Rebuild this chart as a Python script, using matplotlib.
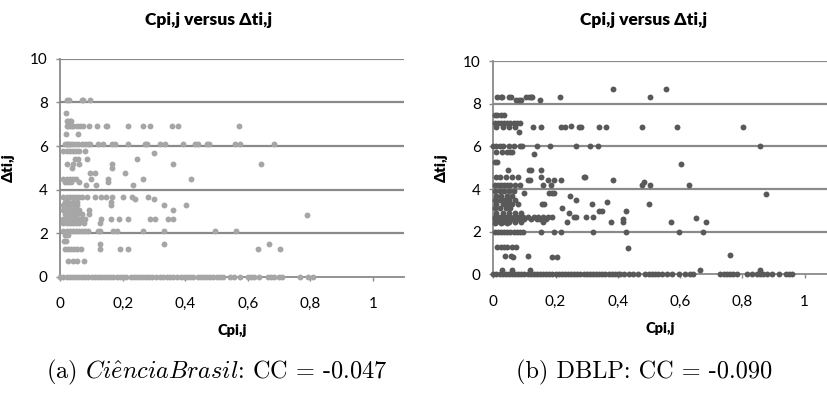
import matplotlib
matplotlib.use("Agg")
import matplotlib.pyplot as plt

plt.rcParams["mathtext.fontset"] = "cm"

SANS = ["Lato", "DejaVu Sans"]

title = "Cpi,j versus Δti,j"
xlabel = "Cpi,j"
ylabel = "Δti,j"
xticks = [0, 0.2, 0.4, 0.6, 0.8, 1]
xtick_labels = ["0", "0,2", "0,4", "0,6", "0,8", "1"]
yticks = [0, 2, 4, 6, 8, 10]
captions = [r"(a) $\mathit{Ci\hat{e}nciaBrasil}$: CC = -0.047",
            "(b) DBLP: CC = -0.090"]

# (a) CiênciaBrasil: rows of points (y value, x values)
cb_rows = [
    (8.1, [0.021, 0.028, 0.069, 0.073, 0.095]),
    (7.5, [0.018]),
    (7.15, [0.02, 0.025, 0.03, 0.035]),
    (6.9, [0.021, 0.026, 0.031, 0.037, 0.042, 0.052, 0.063, 0.074, 0.092, 0.118,
           0.145, 0.148, 0.218, 0.266, 0.287, 0.357, 0.376, 0.572]),
    (6.55, [0.017, 0.056]),
    (6.08, [0.015, 0.021, 0.026, 0.031, 0.037, 0.047, 0.058, 0.068, 0.079, 0.09,
            0.095, 0.122, 0.138, 0.165, 0.175, 0.218, 0.271, 0.277, 0.319, 0.335,
            0.392, 0.431, 0.442, 0.469, 0.477, 0.559, 0.575, 0.684]),
    (5.75, [0.01, 0.02, 0.03, 0.04, 0.05, 0.06, 0.08]),
    (5.66, [0.301]),
    (5.4, [0.047, 0.058, 0.087, 0.245]),
    (5.17, [0.021, 0.042, 0.06, 0.165, 0.362, 0.641]),
    (4.97, [0.038, 0.165]),
    (4.74, [0.095, 0.111, 0.207]),
    (4.48, [0.01, 0.02, 0.03, 0.04, 0.05, 0.098, 0.154, 0.266, 0.417]),
    (4.36, [0.015, 0.025, 0.035, 0.06, 0.154]),
    (4.2, [0.082, 0.114, 0.234]),
    (3.64, [0.01, 0.02, 0.03, 0.04, 0.05, 0.06, 0.07, 0.085, 0.111, 0.131, 0.146,
            0.165, 0.202, 0.228, 0.282]),
    (3.55, [0.239, 0.301]),
    (3.43, [0.015, 0.025, 0.04, 0.055, 0.163]),
    (3.27, [0.01, 0.02, 0.03, 0.045, 0.055, 0.163, 0.333, 0.402]),
    (3.05, [0.01, 0.02, 0.03, 0.04, 0.05, 0.06, 0.093, 0.36]),
    (2.88, [0.015, 0.025, 0.035, 0.045, 0.055, 0.07, 0.093]),
    (2.83, [0.789]),
    (2.63, [0.01, 0.02, 0.03, 0.04, 0.05, 0.06, 0.07, 0.08, 0.131, 0.163, 0.189,
            0.216, 0.287, 0.303, 0.346, 0.36]),
    (2.45, [0.01, 0.02, 0.03, 0.04, 0.05, 0.06, 0.075, 0.127]),
    (2.08, [0.01, 0.02, 0.03, 0.04, 0.05, 0.06, 0.07, 0.08, 0.09, 0.122, 0.127,
            0.17, 0.181, 0.266, 0.333, 0.495, 0.562]),
    (1.9, [0.015, 0.025]),
    (1.65, [0.013, 0.018]),
    (1.5, [0.128, 0.333, 0.669]),
    (1.28, [0.015, 0.025, 0.035, 0.045, 0.055, 0.065, 0.127, 0.191, 0.216,
            0.634, 0.703]),
    (0.7, [0.026, 0.042, 0.053, 0.076]),
    (0.0, [0.0, 0.01, 0.02, 0.03, 0.04, 0.05, 0.06, 0.07, 0.08, 0.09, 0.1, 0.11,
           0.12, 0.13, 0.14, 0.15, 0.16, 0.17, 0.18, 0.19, 0.2, 0.21, 0.225, 0.235,
           0.245, 0.255, 0.265, 0.275, 0.285, 0.295, 0.305, 0.32, 0.33, 0.34, 0.35,
           0.36, 0.375, 0.385, 0.395, 0.405, 0.415, 0.425, 0.44, 0.45, 0.46, 0.47,
           0.48, 0.49, 0.5, 0.51, 0.52, 0.543, 0.555, 0.575, 0.6, 0.61, 0.62, 0.635,
           0.665, 0.675, 0.685, 0.7, 0.71, 0.767, 0.794, 0.81]),
]

# (b) DBLP
dblp_rows = [
    (8.67, [0.383, 0.554]),
    (8.3, [0.013, 0.024, 0.029, 0.05, 0.056, 0.104, 0.115, 0.12, 0.125, 0.214, 0.502]),
    (8.17, [0.072, 0.083, 0.088, 0.15]),
    (7.47, [0.005, 0.013, 0.026, 0.034]),
    (7.1, [0.005, 0.015, 0.025, 0.035, 0.045, 0.055, 0.065, 0.075, 0.085]),
    (6.95, [0.25]),
    (6.9, [0.01, 0.03, 0.05, 0.07, 0.127, 0.154, 0.218, 0.231, 0.275, 0.281, 0.339,
           0.361, 0.479, 0.591, 0.803]),
    (6.69, [0.082]),
    (6.03, [0.0, 0.01, 0.02, 0.03, 0.05, 0.065, 0.085, 0.093, 0.139, 0.182, 0.267,
            0.31, 0.335, 0.856]),
    (5.75, [0.01, 0.027, 0.043, 0.054, 0.059]),
    (5.65, [0.13]),
    (5.28, [0.005, 0.013]),
    (5.17, [0.602]),
    (4.89, [0.046, 0.116, 0.121, 0.153]),
    (4.58, [0.01, 0.02, 0.04, 0.06, 0.08, 0.29, 0.295]),
    (4.55, [0.153]),
    (4.42, [0.11, 0.118, 0.175, 0.196, 0.218, 0.384]),
    (4.34, [0.485]),
    (4.19, [0.005, 0.015, 0.025, 0.035, 0.045, 0.055, 0.07, 0.085, 0.161, 0.185,
            0.477, 0.502, 0.63]),
    (3.9, [0.005, 0.02, 0.035, 0.05, 0.065]),
    (3.8, [0.1, 0.18, 0.19, 0.196]),
    (3.76, [0.875]),
    (3.67, [0.01, 0.025, 0.045, 0.06, 0.245]),
    (3.49, [0.005, 0.02, 0.035, 0.05, 0.07, 0.264]),
    (3.4, [0.366]),
    (3.3, [0.01, 0.03, 0.045, 0.06, 0.08, 0.155, 0.162, 0.318, 0.5]),
    (3.1, [0.005, 0.02, 0.04, 0.055, 0.22]),
    (2.98, [0.34, 0.35, 0.426]),
    (2.86, [0.01, 0.03, 0.05, 0.07, 0.09, 0.243]),
    (2.7, [0.005, 0.015, 0.025, 0.035, 0.045, 0.055, 0.065, 0.075, 0.085, 0.095,
           0.11, 0.13, 0.145, 0.16, 0.175, 0.19, 0.26, 0.265, 0.298, 0.319]),
    (2.62, [0.652]),
    (2.58, [0.005, 0.02, 0.04, 0.06, 0.08, 0.1, 0.12, 0.14, 0.15, 0.17, 0.415]),
    (2.47, [0.01, 0.03, 0.05, 0.07, 0.09, 0.16, 0.237, 0.377, 0.415, 0.572, 0.684]),
    (2.42, [0.005, 0.025, 0.045]),
    (1.97, [0.005, 0.015, 0.025, 0.035, 0.045, 0.055, 0.065, 0.075, 0.085, 0.095,
            0.153, 0.196, 0.218, 0.319, 0.426, 0.597, 0.674]),
    (1.29, [0.013, 0.024, 0.035, 0.045, 0.061, 0.072]),
    (1.25, [0.431]),
    (0.92, [0.76]),
    (0.86, [0.037, 0.058, 0.11]),
    (0.8, [0.064, 0.19, 0.206]),
    (0.18, [0.029, 0.061, 0.118, 0.664, 0.855]),
    (0.0, [0.0, 0.01, 0.02, 0.03, 0.04, 0.05, 0.06, 0.07, 0.08, 0.09, 0.1, 0.11,
           0.12, 0.13, 0.14, 0.15, 0.16, 0.17, 0.18, 0.19, 0.2, 0.21, 0.22, 0.23,
           0.24, 0.25, 0.26, 0.27, 0.28, 0.29, 0.3, 0.31, 0.32, 0.33, 0.34, 0.35,
           0.36, 0.37, 0.38, 0.39, 0.4, 0.407, 0.42, 0.435, 0.45, 0.466, 0.487, 0.5,
           0.51, 0.52, 0.53, 0.541, 0.557, 0.573, 0.597, 0.615, 0.631, 0.642, 0.728,
           0.74, 0.75, 0.76, 0.77, 0.782, 0.815, 0.831, 0.846, 0.855, 0.865, 0.878,
           0.895, 0.917, 0.94, 0.95, 0.959]),
]

GRID = "#8a8a8a"

fig = plt.figure(figsize=(8.27, 3.97), dpi=100)
panels = [
    (cb_rows, "#a6a6a6", [0.0729, 0.3035, 0.4157, 0.5479], 1.1),
    (dblp_rows, "#595959", [0.5965, 0.309, 0.4035, 0.5373], 1.0716),
]
for rows, col, rect, xmax in panels:
    ax = fig.add_axes(rect)
    xs = [x for y, row in rows for x in row]
    ys = [y for y, row in rows for x in row]
    ax.scatter(xs, ys, s=18, color=col, linewidths=0, zorder=3, clip_on=False)
    ax.set_xlim(0, xmax)
    ax.set_ylim(0, 10)
    for yv in yticks[1:]:
        ax.axhline(yv, color=GRID, lw=1.6, zorder=1)
    for side in ("top", "right"):
        ax.spines[side].set_visible(False)
    for side in ("left", "bottom"):
        ax.spines[side].set_color(GRID)
        ax.spines[side].set_linewidth(1.3)
    ax.set_xticks(xticks)
    ax.set_xticklabels(xtick_labels)
    ax.set_yticks(yticks)
    ax.tick_params(axis="both", colors=GRID, length=3, width=1, labelcolor="black",
                   labelsize=11)
    ax.tick_params(axis="x", pad=12)
    ax.tick_params(axis="y", pad=6)
    for lab in ax.get_xticklabels() + ax.get_yticklabels():
        lab.set_family(SANS)
    ax.set_xlabel(xlabel, family=SANS, fontsize=10.5, fontweight="heavy", labelpad=9)
    ax.set_ylabel(ylabel, family=SANS, fontsize=11, fontweight="heavy", labelpad=11)

fig.text(0.2527, 0.95, title, family=SANS, fontsize=12.5, fontweight="heavy",
         ha="center", va="center")
fig.text(0.7776, 0.95, title, family=SANS, fontsize=12.5, fontweight="heavy",
         ha="center", va="center")
fig.text(0.262, 0.063, captions[0], family="cmr10", fontsize=17.5,
         ha="center", va="center")
fig.text(0.779, 0.063, captions[1], family="cmr10", fontsize=17.5,
         ha="center", va="center")

fig.savefig("out.png", dpi=100)
